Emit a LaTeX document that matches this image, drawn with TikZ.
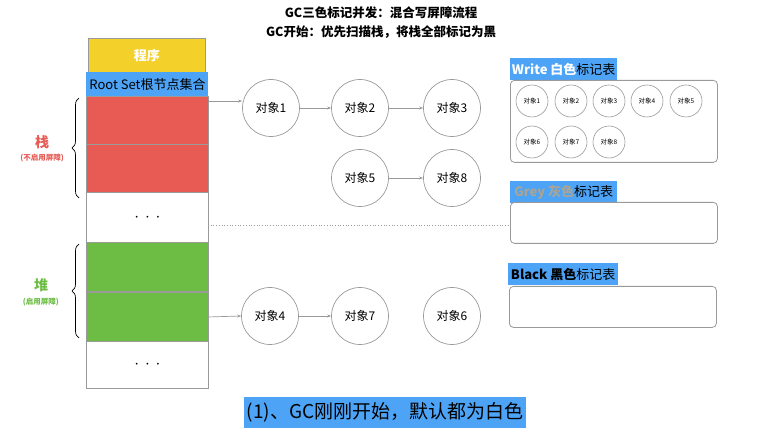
\documentclass[tikz,border=0pt]{standalone}
\usepackage{fontspec}
\setmainfont{Noto Sans CJK SC}
\usetikzlibrary{decorations.pathreplacing,arrows.meta}
\definecolor{cyellow}{HTML}{F4D12A}
\definecolor{cblue}{HTML}{4DA3F5}
\definecolor{cred}{HTML}{E85B55}
\definecolor{cgreen}{HTML}{6DBD45}
\definecolor{lgray}{HTML}{9A9A9A}
\definecolor{greytxt}{HTML}{A9A596}
\newcommand{\fs}[1]{\fontsize{#1}{#1}\selectfont}
\newcommand{\mydots}{\fs{16}$\cdot\hspace{2pt}\cdot\hspace{2pt}\cdot$}
\begin{document}
\begin{tikzpicture}[x=1pt,y=-1pt,
  cell/.style={draw=lgray, line width=0.9pt, minimum width=122pt, inner sep=0pt, anchor=north west},
  obj/.style={circle, draw=lgray, line width=0.7pt, minimum size=57pt, inner sep=0pt, font=\fs{12}},
  sobj/.style={circle, draw=lgray, line width=0.6pt, minimum size=32pt, inner sep=0pt, font=\fs{6.5}},
  lbl/.style={fill=cblue, inner sep=0pt, anchor=north west, minimum height=22pt, font=\fs{13}},
  panel/.style={draw=lgray, line width=0.8pt, rounded corners=4pt, minimum width=207pt, inner sep=0pt, anchor=north west},
  arr/.style={draw=lgray, line width=0.7pt, -{Stealth[length=4pt,width=3pt]}},
  brc/.style={decorate, decoration={brace, amplitude=7pt}, line width=0.7pt, black}
]
\useasboundingbox (0,0) rectangle (771,438);

% titles
\node[font=\fs{12.5}\bfseries] (t1) at (381,13) {GC三色标记并发：混合写屏障流程};
\node[font=\fs{12.5}\bfseries] (t2) at (381,32) {GC开始：优先扫描栈，将栈全部标记为黑};

% left column
\node[cell, fill=cyellow, minimum width=117pt, minimum height=34pt, text=white, font=\fs{13}\bfseries] (prog) at (88,38) {程序};
\node[cell, draw=none, fill=cblue, minimum height=24pt, font=\fs{13}] (root) at (86,72) {Root Set根节点集合};
\node[cell, fill=cred, minimum height=48pt] (red1) at (86,96) {};
\node[cell, fill=cred, minimum height=48pt] (red2) at (86,144) {};
\node[cell, fill=white, minimum height=50pt] (dots1) at (86,192) {\mydots};
\node[cell, fill=cgreen, minimum height=49pt] (green1) at (86,242) {};
\node[cell, fill=cgreen, minimum height=49pt] (green2) at (86,292) {};
\node[cell, fill=white, minimum height=47pt] (dots2) at (86,341) {\mydots};

% braces and labels
\coordinate (b1s) at (79,198);
\coordinate (b1e) at (79,98);
\draw[brc] (b1s) -- (b1e);
\coordinate (b2s) at (79,338);
\coordinate (b2e) at (79,244);
\draw[brc] (b2s) -- (b2e);
\node[text=cred, font=\fs{14}\bfseries] (zhan) at (42,142) {栈};
\node[text=cred, font=\fs{7.5}\bfseries] (zhans) at (42,158) {(不启用屏障)};
\node[text=cgreen, font=\fs{14}\bfseries] (dui) at (41,285) {堆};
\node[text=cgreen, font=\fs{7.5}\bfseries] (duis) at (41,302) {(启用屏障)};

% objects
\node[obj] (o1) at (271,108) {对象1};
\node[obj] (o2) at (360,108) {对象2};
\node[obj] (o3) at (452,108) {对象3};
\node[obj] (o5) at (360,178) {对象5};
\node[obj] (o8) at (452,178) {对象8};
\node[obj] (o4) at (270,316) {对象4};
\node[obj] (o7) at (360,316) {对象7};
\node[obj] (o6) at (452,316) {对象6};

\coordinate (s1) at (208,101);
\draw[arr] (s1) -- (s1 -| o1.west);
\draw[arr] (o1) -- (o2);
\draw[arr] (o2) -- (o3);
\draw[arr] (o5) -- (o8);
\draw[arr] (green2.east) -- (o4.west);
\draw[arr] (o4) -- (o7);

% right panels
\node[lbl, minimum width=107pt] (wl) at (510,58) {\textcolor{white}{\bfseries Write 白色}标记表};
\node[panel, minimum height=82pt] (wp) at (510,80) {};
\node[lbl, minimum width=107pt] (gl) at (510,181) {\textcolor{greytxt}{\bfseries Grey 灰色}标记表};
\node[panel, minimum height=41pt] (gp) at (510,202) {};
\node[lbl, minimum width=110pt] (bl) at (508,263) {{\bfseries Black 黑色}标记表};
\node[panel, minimum height=41pt] (bp) at (509,286) {};

\node[sobj] (w1) at (532,101) {对象1};
\node[sobj] (w2) at (571,101) {对象2};
\node[sobj] (w3) at (609,101) {对象3};
\node[sobj] (w4) at (647,101) {对象4};
\node[sobj] (w5) at (686,101) {对象5};
\node[sobj] (w6) at (532,142) {对象6};
\node[sobj] (w7) at (571,142) {对象7};
\node[sobj] (w8) at (609,142) {对象8};

% dotted connector
\coordinate (d1) at (208,225);
\draw[lgray, dotted, line width=0.7pt] (d1) -- (d1 -| gp.west);

% bottom caption
\node[fill=cblue, minimum width=282pt, minimum height=31pt, inner sep=0pt, font=\fs{19}] (cap) at (385,412) {(1)、GC刚刚开始，默认都为白色};
\end{tikzpicture}
\end{document}
